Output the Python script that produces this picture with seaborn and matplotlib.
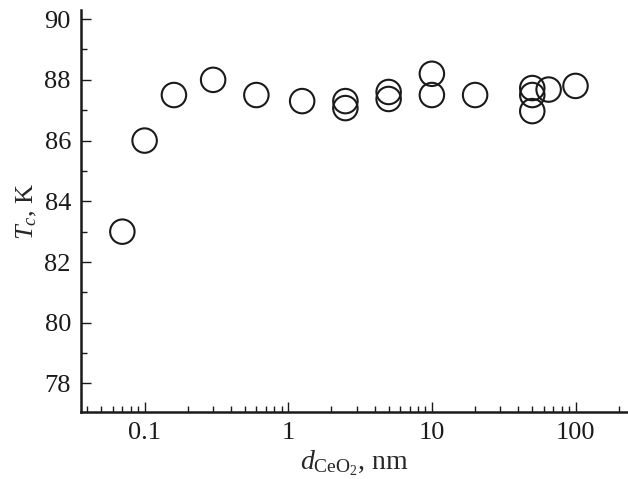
import numpy as np
import pandas as pd
import matplotlib
matplotlib.use('Agg')
import matplotlib.pyplot as plt
import matplotlib.ticker as mticker
import seaborn as sns

# thickness of CeO2 layer (nm) and critical temperature (K)
d_ceo2 = [0.07, 0.1, 0.16, 0.3, 0.6, 1.25, 2.5, 2.5, 5, 5, 10, 10, 20,
          50, 50, 50, 65, 100]
tc = [83.0, 86.0, 87.5, 88.0, 87.5, 87.3, 87.3, 87.07, 87.6, 87.37, 88.2, 87.5, 87.5,
      87.73, 87.5, 86.97, 87.68, 87.8]

x_ticks = [0.1, 1, 10, 100]
y_ticks = [78, 80, 82, 84, 86, 88, 90]

df = pd.DataFrame({'d': d_ceo2, 'Tc': tc})

sns.set_style('ticks')
plt.rcParams['font.family'] = ['Liberation Serif', 'DejaVu Serif']
plt.rcParams['mathtext.fontset'] = 'custom'
plt.rcParams['mathtext.rm'] = 'Liberation Serif'
plt.rcParams['mathtext.it'] = 'Liberation Serif:italic'
plt.rcParams['font.size'] = 18

fig = plt.figure(figsize=(6.28, 4.79), dpi=100)
ax = fig.add_axes([0.1285, 0.1392, 0.8715, 0.8399])

sns.scatterplot(data=df, x='d', y='Tc', ax=ax, marker='o', s=310,
                facecolor='none', edgecolor='#1a1a1a', linewidth=1.5,
                zorder=3, clip_on=False)

ax.set_xscale('log')
ax.set_xlim(0.0359, 232)
ax.set_ylim(77.05, 90.3)

ax.xaxis.set_major_locator(mticker.FixedLocator(x_ticks))
ax.xaxis.set_major_formatter(mticker.FuncFormatter(lambda v, p: f'{v:g}'))
ax.xaxis.set_minor_locator(mticker.LogLocator(base=10, subs=np.arange(2, 10), numticks=20))
ax.xaxis.set_minor_formatter(mticker.NullFormatter())
ax.yaxis.set_major_locator(mticker.FixedLocator(y_ticks))
ax.yaxis.set_minor_locator(mticker.MultipleLocator(1))

sns.despine(ax=ax)
for s in ['left', 'bottom']:
    ax.spines[s].set_linewidth(1.8)
    ax.spines[s].set_color('#1a1a1a')

ax.tick_params(which='major', direction='in', length=7, width=1, labelsize=19,
               pad=7, colors='#1a1a1a')
ax.tick_params(which='minor', direction='in', length=4.2, width=1, colors='#1a1a1a')

ax.set_xlabel(r'$d_{\mathrm{CeO_2}}$, nm', fontsize=20, labelpad=3)
ax.set_ylabel(r'$T_c$, K', fontsize=19, labelpad=4)

fig.savefig('out.png', dpi=100)
